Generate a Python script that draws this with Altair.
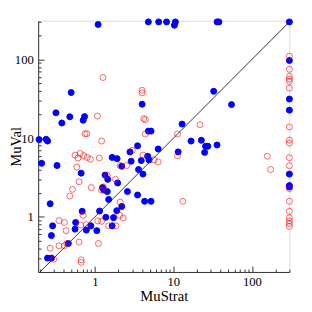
import altair as alt
import pandas as pd

# ---- data ----
blue_x = [1.1, 4.8, 6.5, 8.2, 10.6, 10.3, 36, 38, 300, 0.50, 4.0, 0.32, 0.38, 0.48, 0.74, 0.71,
          4.8, 5.2, 0.195, 0.24, 0.25, 3.5, 2.8, 4.7, 6.4, 11.5, 12.9, 16.8, 22.7, 25.7, 27.5, 25,
          36, 32.6, 55, 300, 300, 300, 300, 300, 300, 1.66, 1.92, 2.9, 3.9, 4.9, 0.21, 0.33,
          2.2, 0.67, 3.6, 4.1, 1.35, 1.46, 1.95, 1.25, 1.3, 1.44, 2.6, 3.5, 4.3, 5.2, 1.5, 0.27,
          2.2, 1.9, 0.69, 1.15, 1.38, 1.73, 0.29, 0.57, 0.89, 1.66, 0.56, 0.78, 1.06, 0.28, 0.46,
          0.25, 0.28]
blue_y = [278, 300, 300, 300, 300, 272, 300, 300, 300, 38, 27, 21, 15.6, 18.7, 18.8, 16.9,
          12.3, 12.3, 9.6, 9.7, 9.2, 8.0, 6.7, 5.9, 7.3, 6.7, 15.1, 9.2, 9.4, 7.9, 7.9, 6.6,
          8.2, 39.4, 26.7, 97, 31.4, 22.7, 3.5, 2.5, 2.4, 5.7, 5.5, 5.1, 5.2, 5.3, 4.8, 4.5,
          4.4, 3.6, 4.0, 3.5, 3.4, 3.0, 2.7, 2.36, 2.2, 2.1, 2.1, 1.9, 1.58, 1.58, 1.67, 1.47,
          1.36, 1.2, 1.18, 1.19, 0.99, 0.98, 0.77, 0.85, 0.77, 0.77, 0.70, 0.68, 0.67, 0.58, 0.46,
          0.30, 0.30]

red_x = [1.27, 4.0, 4.0, 1.08, 4.2, 4.4, 4.4, 0.75, 0.79, 1.22, 3.0, 4.1, 11.3, 11.3, 21.8,
         157, 173, 13.2, 5.7, 6.4, 0.56, 0.65, 0.61, 0.72, 0.80, 0.88, 1.14, 0.59, 0.63, 0.52,
         0.48, 0.90, 1.44, 1.83, 2.1, 2.55, 1.22, 1.29, 2.1, 0.71, 2.07, 2.3, 0.35, 0.41, 0.66,
         0.78, 1.09, 1.22, 1.5, 1.86, 0.43, 0.63, 1.11, 0.35, 0.41, 0.44, 0.27, 0.30, 0.67, 0.67,
         300, 300, 300, 300, 300, 300, 300, 300, 300, 300, 300, 300, 300, 300, 300, 300, 300, 300]
red_y = [59, 40.6, 37.6, 19.1, 17.7, 17.2, 11.3, 11.4, 11.4, 9.2, 7.0, 6.1, 11.3, 6.0, 14.8,
         5.9, 4.0, 1.58, 5.3, 5.0, 6.1, 6.4, 5.6, 6.0, 5.7, 5.4, 5.6, 4.3, 2.8, 2.24,
         1.84, 2.36, 3.4, 3.0, 4.5, 4.5, 2.18, 2.4, 1.54, 1.05, 1.05, 0.97, 0.90, 0.85, 0.79,
         0.80, 0.89, 0.88, 0.77, 0.77, 0.67, 0.48, 0.46, 0.43, 0.43, 0.46, 0.40, 0.29, 0.285, 0.265,
         110, 75, 61, 56.4, 52.8, 43.3, 13.9, 9.45, 8.67, 5.66, 4.48, 2.28, 1.58, 1.18, 0.975,
         0.89, 0.824, 0.76]

x_domain = [0.19, 300]
y_domain = [0.2, 310]
major_ticks = [1, 10, 100]
minor_ticks = [0.2, 0.3, 0.4, 0.5, 0.6, 0.7, 0.8, 0.9, 2, 3, 4, 5, 6, 7, 8, 9,
               20, 30, 40, 50, 60, 70, 80, 90, 200, 300]
diag_vals = [0.1, 1000]

FONT = "Liberation Serif"
AX = "#333333"

pts = pd.concat([
    pd.DataFrame({"MuStrat": blue_x, "MuVal": blue_y, "kind": "blue"}),
    pd.DataFrame({"MuStrat": red_x, "MuVal": red_y, "kind": "red"}),
], ignore_index=True)
diag = pd.DataFrame({"MuStrat": diag_vals, "MuVal": diag_vals})

xs = alt.Scale(type="log", domain=x_domain, nice=False)
ys = alt.Scale(type="log", domain=y_domain, nice=False)

x_major = alt.Axis(values=major_ticks, format="d", grid=False, orient="bottom",
                   tickSize=alt.ExprRef("-6"), tickColor=AX, domainColor=AX,
                   labelFont=FONT, labelFontSize=13, labelColor="black",
                   labelBaseline="alphabetic", labelPadding=19.5,
                   title="MuStrat", titleFont=FONT, titleFontSize=15, titleFontWeight="normal",
                   titleColor="black", titleX=129, titleY=29.5, titleBaseline="alphabetic")
y_major = alt.Axis(values=major_ticks, format="d", grid=False, orient="left",
                   tickSize=alt.ExprRef("-6"), tickColor=AX, domainColor=AX,
                   labelFont=FONT, labelFontSize=13, labelColor="black", labelPadding=11,
                   title="MuVal", titleFont=FONT, titleFontSize=15, titleFontWeight="normal",
                   titleColor="black", titleX=-18, titleY=129, titleBaseline="alphabetic")
x_minor = alt.Axis(values=minor_ticks, labels=False, domain=False, grid=False, orient="bottom",
                   tickSize=alt.ExprRef("-3"), tickColor=AX, title=None)
y_minor = alt.Axis(values=minor_ticks, labels=False, domain=False, grid=False, orient="left",
                   tickSize=alt.ExprRef("-3"), tickColor=AX, title=None)

points = alt.Chart(pts).mark_point(shape="circle", size=38, strokeWidth=1, opacity=1).encode(
    x=alt.X("MuStrat:Q", scale=xs, axis=x_major),
    y=alt.Y("MuVal:Q", scale=ys, axis=y_major),
    fill=alt.Fill("kind:N", scale=alt.Scale(domain=["blue", "red"], range=["#0000ff", "transparent"]), legend=None),
    stroke=alt.Stroke("kind:N", scale=alt.Scale(domain=["blue", "red"], range=["#0000ff", "#ff0000"]), legend=None),
    strokeOpacity=alt.StrokeOpacity("kind:N", scale=alt.Scale(domain=["blue", "red"], range=[1, 0.6]), legend=None),
)

line = alt.Chart(diag).mark_line(color=AX, strokeWidth=1, clip=True).encode(
    x=alt.X("MuStrat:Q", scale=xs, axis=x_minor),
    y=alt.Y("MuVal:Q", scale=ys, axis=y_minor),
)

chart = alt.layer(line, points).resolve_axis(x="independent", y="independent").properties(
    width=258, height=258,
    padding={"left": 31, "top": 9, "right": 15, "bottom": 37},
    autosize=alt.AutoSizeParams(type="none"),
).configure_view(stroke=AX, strokeWidth=1).configure(background="white")

chart.save("out.html", embed_options={"renderer": "svg", "actions": False})
